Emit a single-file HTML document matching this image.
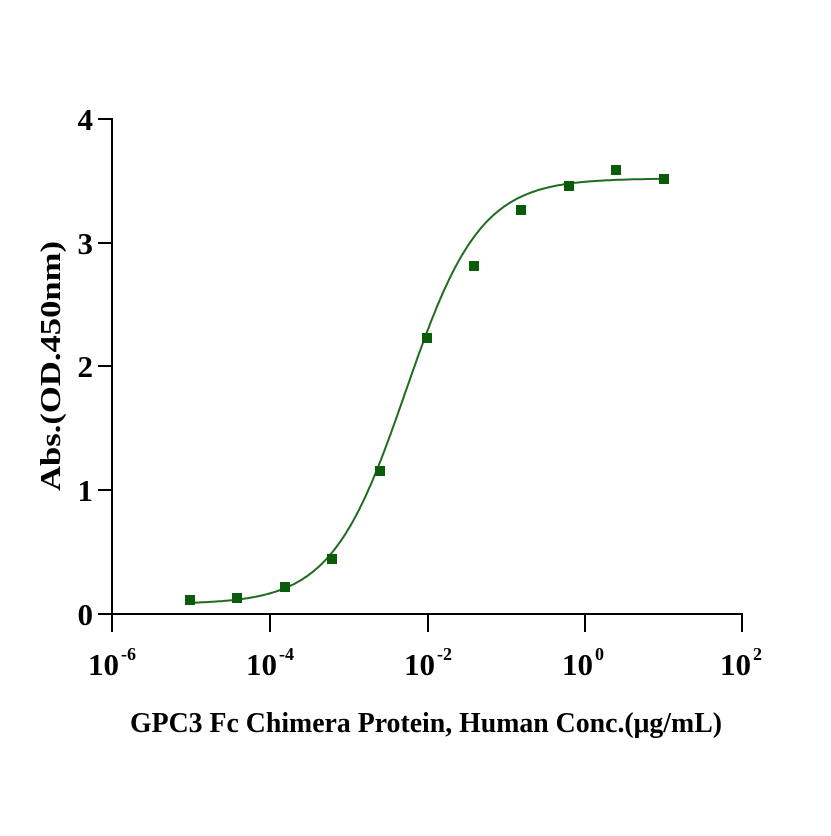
<!DOCTYPE html>
<html><head><meta charset="utf-8"><style>
body{margin:0;background:#fff}
text{font-family:"Liberation Serif",serif;font-weight:bold;fill:#000}
</style></head><body>
<svg width="831" height="831" xmlns="http://www.w3.org/2000/svg">
<g stroke="#000" stroke-width="2" fill="none">
<line x1="112" y1="118" x2="112" y2="615"/>
<line x1="111" y1="614" x2="743" y2="614"/>
<line x1="98" y1="119" x2="112" y2="119"/>
<line x1="98" y1="243" x2="112" y2="243"/>
<line x1="98" y1="366" x2="112" y2="366"/>
<line x1="98" y1="490" x2="112" y2="490"/>
<line x1="98" y1="614" x2="112" y2="614"/>
<line x1="112" y1="614" x2="112" y2="632"/>
<line x1="270" y1="614" x2="270" y2="632"/>
<line x1="428" y1="614" x2="428" y2="632"/>
<line x1="585" y1="614" x2="585" y2="632"/>
<line x1="742" y1="614" x2="742" y2="632"/>
</g>
<g font-size="31" text-anchor="end">
<text x="93" y="130">4</text><text x="93" y="254">3</text><text x="93" y="377">2</text><text x="93" y="501">1</text><text x="93" y="625">0</text>
</g>
<g font-size="31">
<text x="88" y="675">10</text><text x="121" y="660" font-size="18">-6</text>
<text x="246" y="675">10</text><text x="279" y="660" font-size="18">-4</text>
<text x="404" y="675">10</text><text x="437" y="660" font-size="18">-2</text>
<text x="562" y="675">10</text><text x="595" y="660" font-size="18">0</text>
<text x="720" y="675">10</text><text x="753" y="660" font-size="18">2</text>
</g>
<text x="130" y="732" font-size="29" textLength="592" lengthAdjust="spacingAndGlyphs">GPC3 Fc Chimera Protein, Human Conc.(μg/mL)</text>
<text transform="translate(60,366) rotate(-90)" font-size="29" text-anchor="middle" textLength="250" lengthAdjust="spacingAndGlyphs">Abs.(OD.450nm)</text>
<path id="c" fill="none" stroke="#1f6b1f" stroke-width="2"/>
<g fill="#0a5c0a" id="pts"></g>
</svg>
<script>
var px=function(l){return 112+(l+6)*78.75},py=function(v){return 614-v*123.75};
var d="";for(var l=-5;l<=1.0001;l+=0.02){var v=0.08+3.44/(1+Math.pow(10,(-2.27-l)*0.92));d+=(d?"L":"M")+px(l).toFixed(1)+" "+py(v).toFixed(1);}
document.getElementById("c").setAttribute("d",d);
var P=[[190,600],[237,598],[285,587],[332,559],[380,471],[427,338],[474,266],[521,210],[569,186],[616,170],[664,179]];
var g=document.getElementById("pts");P.forEach(function(p){var r=document.createElementNS("http://www.w3.org/2000/svg","rect");r.setAttribute("x",p[0]-5);r.setAttribute("y",p[1]-5);r.setAttribute("width",10);r.setAttribute("height",10);g.appendChild(r);});
</script>
</body></html>
